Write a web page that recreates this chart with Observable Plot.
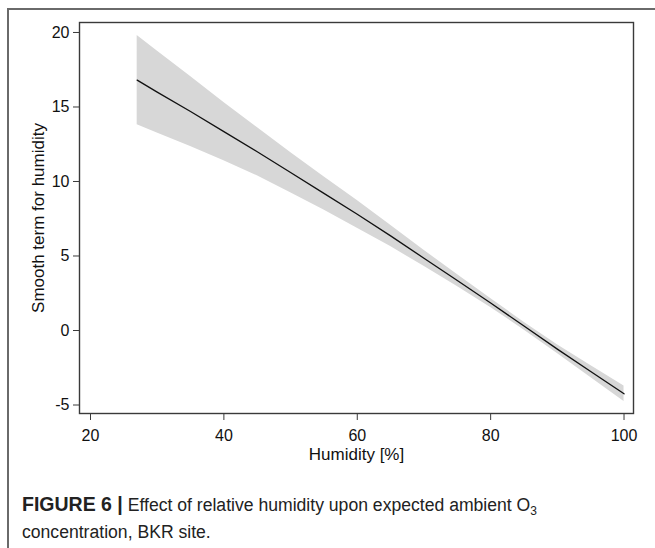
<!DOCTYPE html>
<html>
<head>
<meta charset="utf-8">
<script src="https://cdn.jsdelivr.net/npm/d3@7"></script>
<script src="https://cdn.jsdelivr.net/npm/@observablehq/plot@0.6"></script>
<style>
  html, body { margin: 0; padding: 0; background: #fff; }
  body { width: 655px; height: 548px; position: relative; overflow: hidden; font-family: "Liberation Sans", Arial, sans-serif; }
  #border { position: absolute; left: 7px; top: 8px; right: -5px; bottom: -5px; border-top: 2px solid #6a6a6a; border-left: 2px solid #6a6a6a; }
  #chart { position: absolute; left: 0; top: 0; }
  #caption { position: absolute; left: 22px; top: 491px; font-size: 17.6px; line-height: 27px; color: #222; white-space: nowrap; }
  #caption b { font-weight: bold; font-size: 19.5px; }
  #caption sub { font-size: 12px; vertical-align: -4px; line-height: 0; }
</style>
</head>
<body>
<div id="border"></div>
<div id="chart"></div>
<div id="caption"><b>FIGURE 6 |</b> Effect of relative humidity upon expected ambient O<sub>3</sub><br>concentration, BKR site.</div>
<script>
const humidity = [27, 30, 35, 40, 45, 50, 55, 60, 65, 70, 75, 80, 85, 90, 95, 100];
const smooth   = [16.8, 16.0, 14.7, 13.35, 12.0, 10.6, 9.2, 7.8, 6.35, 4.85, 3.35, 1.85, 0.3, -1.25, -2.75, -4.25];
const lower    = [13.8, 13.25, 12.35, 11.4, 10.38, 9.25, 8.08, 6.87, 5.63, 4.31, 2.95, 1.55, 0.04, -1.55, -3.15, -4.77];
const upper    = [19.8, 18.75, 17.05, 15.3, 13.62, 11.95, 10.32, 8.73, 7.07, 5.39, 3.75, 2.15, 0.56, -0.95, -2.35, -3.73];
const xTicks = [20, 40, 60, 80, 100];
const yTicks = [-5, 0, 5, 10, 15, 20];
const xLabel = "Humidity [%]";
const yLabel = "Smooth term for humidity";

const data = humidity.map((h, i) => ({h, s: smooth[i], lo: lower[i], hi: upper[i]}));
const fmt = d => String(d);

const chart = Plot.plot({
  width: 655,
  height: 470,
  marginLeft: 79,
  marginRight: 22,
  marginTop: 22,
  marginBottom: 57,
  style: {fontFamily: "'Liberation Sans', Arial, sans-serif", fontSize: "16px", color: "#111", background: "transparent"},
  x: {domain: [18.35, 101.42]},
  y: {domain: [-5.57, 20.67]},
  marks: [
    Plot.areaY(data, {x: "h", y1: "lo", y2: "hi", fill: "#d7d7d7"}),
    Plot.lineY(data, {x: "h", y: "s", stroke: "#111", strokeWidth: 1.3}),
    Plot.frame({stroke: "#3a3a3a", strokeWidth: 1.4}),
    Plot.axisX(xTicks, {tickSize: 7, tickPadding: 9, label: null, stroke: "#3a3a3a", fontSize: 16, fill: "#111", tickFormat: fmt}),
    Plot.axisY(yTicks, {tickSize: 6, tickPadding: 4, label: null, stroke: "#3a3a3a", fontSize: 16, fill: "#111", tickFormat: fmt}),
    Plot.text([xLabel], {frameAnchor: "bottom", dy: 41, lineAnchor: "middle", textAnchor: "middle", fontSize: 17, fill: "#111"}),
    Plot.text([yLabel], {frameAnchor: "left", dx: -41, rotate: -90, lineAnchor: "middle", textAnchor: "middle", fontSize: 17, fill: "#111"})
  ]
});
document.getElementById("chart").appendChild(chart);
</script>
</body>
</html>
